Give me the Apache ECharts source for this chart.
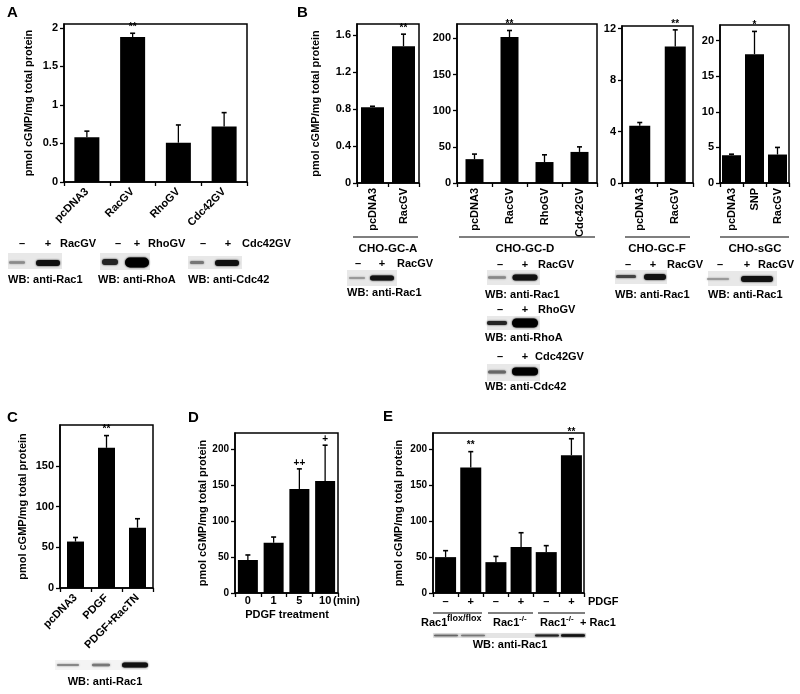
<!DOCTYPE html>
<html><head><meta charset="utf-8">
<script src="https://cdn.jsdelivr.net/npm/echarts@6/dist/echarts.min.js"></script>
<style>html,body{margin:0;padding:0;background:#fff}#c{width:800px;height:694px}</style>
</head><body><div id="c"></div>
<script>
// ---------- DATA ----------
const catsA = ['pcDNA3', 'RacGV', 'RhoGV', 'Cdc42GV'];
const valsA = [0.58, 1.88, 0.51, 0.72];
const errA  = [0.08, 0.05, 0.23, 0.18];
const sigA  = ['', '**', '', ''];

const catsGCA = ['pcDNA3', 'RacGV'];
const valsGCA = [0.82, 1.48];
const errGCA  = [0.01, 0.13];
const sigGCA  = ['', '**'];

const catsGCD = ['pcDNA3', 'RacGV', 'RhoGV', 'Cdc42GV'];
const valsGCD = [33, 202, 29, 43];
const errGCD  = [7, 9, 10, 7];
const sigGCD  = ['', '**', '', ''];

const catsGCF = ['pcDNA3', 'RacGV'];
const valsGCF = [4.45, 10.6];
const errGCF  = [0.25, 1.3];
const sigGCF  = ['', '**'];

const catsSGC = ['pcDNA3', 'SNP', 'RacGV'];
const valsSGC = [3.9, 18.1, 4.0];
const errSGC  = [0.15, 3.2, 1.0];
const sigSGC  = ['', '*', ''];

const catsC = ['pcDNA3', 'PDGF', 'PDGF+RacTN'];
const valsC = [57, 172, 74];
const errC  = [5, 15, 11];
const sigC  = ['', '**', ''];

const catsD = ['0', '1', '5', '10'];
const valsD = [46, 70, 145, 156];
const errD  = [7, 8, 28, 50];
const sigD  = ['', '', '++', '+'];

const catsE = ['–', '+', '–', '+', '–', '+'];
const valsE = [50, 175, 43, 64, 57, 192];
const errE  = [9, 22, 8, 20, 9, 23];
const sigE  = ['', '**', '', '', '', '**'];

const yTitle = 'pmol cGMP/mg total protein';

// ---------- LAYOUT ----------
const FONT = '"Liberation Sans", Arial, Helvetica, sans-serif';
const panels = [
  {cats: catsA, vals: valsA, errs: errA, sig: sigA, g: [64, 24, 183, 158], max: 2.05, iv: 0.5, bw: 25, rot: 45, lm: 8, fs: 11, yfs: 11, title: true, gap: 30},
  {cats: catsGCA, vals: valsGCA, errs: errGCA, sig: sigGCA, g: [357, 24, 62, 159], max: 1.72, iv: 0.4, bw: 23, rot: 90, lm: 5, fs: 11, yfs: 11, title: true, gap: 36},
  {cats: catsGCD, vals: valsGCD, errs: errGCD, sig: sigGCD, g: [457, 24, 140, 159], max: 220, iv: 50, bw: 18, rot: 90, lm: 5, fs: 11, yfs: 11},
  {cats: catsGCF, vals: valsGCF, errs: errGCF, sig: sigGCF, g: [622, 26, 71, 157], max: 12.2, iv: 4, bw: 21, rot: 90, lm: 5, fs: 11, yfs: 11},
  {cats: catsSGC, vals: valsSGC, errs: errSGC, sig: sigSGC, g: [720, 25, 69, 158], max: 22.2, iv: 5, bw: 19, rot: 90, lm: 5, fs: 11, yfs: 11},
  {cats: catsC, vals: valsC, errs: errC, sig: sigC, g: [60, 425, 93, 163], max: 200, iv: 50, bw: 17, rot: 45, lm: 8, fs: 11, yfs: 11, title: true, gap: 32},
  {cats: catsD, vals: valsD, errs: errD, sig: sigD, g: [235, 433, 103, 160], max: 223, iv: 50, bw: 20, rot: 0, lm: 2, fs: 11, yfs: 10, title: true, gap: 27},
  {cats: catsE, vals: valsE, errs: errE, sig: sigE, g: [433, 433, 151, 160], max: 223, iv: 50, bw: 21, rot: 0, lm: 3, fs: 11, yfs: 10, title: true, gap: 29}
];

const grids = [], xAxes = [], yAxes = [], series = [];
const lab = (fs) => ({color: '#000', fontWeight: 'bold', fontSize: fs, fontFamily: FONT});
panels.forEach((p, gi) => {
  grids.push({left: p.g[0], top: p.g[1], width: p.g[2], height: p.g[3], show: true,
    borderColor: '#000', borderWidth: 1.5, backgroundColor: 'transparent'});
  xAxes.push({gridIndex: gi, type: 'category', data: p.cats,
    axisLine: {lineStyle: {color: '#000', width: 1.5}},
    axisTick: {show: true, length: 4, lineStyle: {color: '#000', width: 1.3}},
    axisLabel: Object.assign({interval: 0, rotate: p.rot, margin: p.lm}, lab(p.fs))});
  yAxes.push({gridIndex: gi, type: 'value', min: 0, max: p.max, interval: p.iv,
    splitLine: {show: false},
    axisLine: {show: true, lineStyle: {color: '#000', width: 1.5}},
    axisTick: {show: true, length: 4, lineStyle: {color: '#000', width: 1.3}},
    axisLabel: Object.assign({margin: 6, showMaxLabel: false}, lab(p.yfs)),
    name: p.title ? yTitle : '', nameLocation: 'middle', nameGap: p.gap || 30, nameRotate: 90,
    nameTextStyle: lab(11)});
  series.push({type: 'bar', xAxisIndex: gi, yAxisIndex: gi, data: p.vals, barWidth: p.bw,
    itemStyle: {color: '#000'}, silent: true, animation: false});
  series.push({type: 'custom', xAxisIndex: gi, yAxisIndex: gi, silent: true, animation: false, z: 5,
    data: p.vals.map((v, i) => [i, v, v + p.errs[i]]),
    encode: {x: 0, y: [1, 2]},
    renderItem: (params, api) => {
      const i = api.value(0);
      const b = api.coord([i, api.value(1)]);
      const t = api.coord([i, api.value(2)]);
      const ch = [
        {type: 'line', shape: {x1: b[0], y1: b[1], x2: t[0], y2: t[1]}, style: {stroke: '#000', lineWidth: 1.3}},
        {type: 'line', shape: {x1: t[0] - 2.5, y1: t[1], x2: t[0] + 2.5, y2: t[1]}, style: {stroke: '#000', lineWidth: 1.6}}
      ];
      const s = p.sig[params.dataIndex];
      if (s) ch.push({type: 'text', x: t[0], y: t[1] - 1,
        style: {text: s, fontFamily: FONT, fontWeight: 'bold', fontSize: 10, fill: '#000', align: 'center', verticalAlign: 'bottom'}});
      return {type: 'group', children: ch};
    }});
});

// ---------- DECORATIONS (labels, brackets, blots) ----------
const G = [];
function txt(x, y, s, size, align, extra) {
  G.push({type: 'text', x: x, y: y, silent: true, z: 10,
    style: Object.assign({text: s, fontFamily: FONT, fontWeight: 'bold', fontSize: size, fill: '#000',
      align: align || 'left', verticalAlign: 'middle'}, extra || {})});
}
function hline(x1, x2, y) {
  G.push({type: 'line', silent: true, shape: {x1: x1, y1: y, x2: x2, y2: y}, style: {stroke: '#000', lineWidth: 1.2}});
}
function blot(x, y, w, h, bg, bands) {
  if (bg) G.push({type: 'rect', silent: true, shape: {x: x, y: y, width: w, height: h}, style: {fill: bg}});
  bands.forEach(b => G.push({type: 'rect', silent: true,
    shape: {x: b[0] - b[2] / 2, y: b[1] - b[3] / 2, width: b[2], height: b[3], r: b[3] / 2},
    style: {fill: b[4], shadowBlur: 2, shadowColor: b[4]}}));
}
function pm(xm, xp, xl, y, label) { txt(xm, y, '–', 11, 'center'); txt(xp, y, '+', 11, 'center'); txt(xl, y, label, 11, 'left'); }

// panel letters
txt(7, 13, 'A', 15); txt(297, 13, 'B', 15); txt(7, 418, 'C', 15); txt(188, 418, 'D', 15); txt(383, 417, 'E', 15);

// A blots
pm(22, 48, 60, 244, 'RacGV'); pm(118, 137, 148, 244, 'RhoGV'); pm(203, 228, 242, 244, 'Cdc42GV');
blot(8, 253, 54, 16, '#e8e8e8', [[17, 262.5, 16, 2.5, '#8a8a8a'], [48, 263, 24, 6, '#111']]);
blot(100, 253, 50, 17, '#e8e8e8', [[110, 262, 16, 6, '#222'], [137, 262.5, 24, 10, '#000']]);
blot(188, 256, 54, 13, '#e8e8e8', [[197, 262.5, 14, 3, '#777'], [227, 263, 24, 6, '#111']]);
txt(8, 280, 'WB: anti-Rac1', 11); txt(98, 280, 'WB: anti-RhoA', 11); txt(188, 280, 'WB: anti-Cdc42', 11);

// B brackets and group labels
hline(353, 418, 237); txt(388, 249, 'CHO-GC-A', 11.5, 'center');
hline(459, 595, 237); txt(525, 249, 'CHO-GC-D', 11.5, 'center');
hline(625, 690, 237); txt(657, 249, 'CHO-GC-F', 11.5, 'center');
hline(720, 789, 237); txt(755, 249, 'CHO-sGC', 11.5, 'center');

// B blots
pm(358, 382, 397, 264, 'RacGV');
blot(347, 270, 50, 16, '#e8e8e8', [[357, 278, 16, 2, '#999'], [382, 278, 24, 5, '#111']]);
txt(347, 293, 'WB: anti-Rac1', 11);

pm(500, 525, 538, 265, 'RacGV');
blot(487, 270, 53, 15, '#e8e8e8', [[497, 277.5, 18, 2.5, '#888'], [525, 277.5, 25, 6, '#111']]);
txt(485, 295, 'WB: anti-Rac1', 11);
pm(500, 525, 538, 310, 'RhoGV');
blot(487, 316, 53, 14, '#e8e8e8', [[497, 323, 20, 4, '#222'], [525, 323, 26, 9, '#000']]);
txt(485, 338, 'WB: anti-RhoA', 11);
pm(500, 525, 535, 357, 'Cdc42GV');
blot(487, 364, 53, 17, '#e8e8e8', [[497, 372, 18, 3, '#666'], [525, 371.5, 26, 8, '#000']]);
txt(485, 387, 'WB: anti-Cdc42', 11);

pm(628, 653, 667, 265, 'RacGV');
blot(615, 270, 52, 14, '#e8e8e8', [[626, 276.5, 20, 3, '#444'], [655, 277, 22, 6, '#111']]);
txt(615, 295, 'WB: anti-Rac1', 11);

pm(720, 747, 758, 265, 'RacGV');
blot(708, 271, 69, 15, '#e8e8e8', [[718, 279, 22, 2, '#9a9a9a'], [757, 279, 32, 6, '#111']]);
txt(708, 295, 'WB: anti-Rac1', 11);

// C blot
blot(55, 660, 93, 10, '#f4f4f4', [[68, 665, 22, 2, '#888'], [101, 665, 18, 2.5, '#777'], [135, 665, 26, 5, '#111']]);
txt(105, 682, 'WB: anti-Rac1', 11, 'center');

// D extras
txt(333, 601, '(min)', 11); txt(287, 615, 'PDGF treatment', 11, 'center');

// E extras
txt(588, 602, 'PDGF', 11);
hline(433, 482, 613); hline(488, 533, 613); hline(538, 585, 613);
txt(421, 623, 'Rac1', 11); txt(447, 619, 'flox/flox', 9);
txt(493, 623, 'Rac1', 11); txt(519, 619, '-/-', 8);
txt(540, 623, 'Rac1', 11); txt(566, 619, '-/-', 8); txt(580, 623, '+ Rac1', 11);
blot(433, 633, 153, 5, '#e4e4e4', [[446, 635.5, 24, 1.6, '#666'], [473, 635.5, 24, 1.6, '#777'],
  [547, 635.5, 24, 2.2, '#222'], [573, 635.5, 24, 2.4, '#111']]);
txt(510, 645, 'WB: anti-Rac1', 11, 'center');

const chart = echarts.init(document.getElementById('c'), null, {renderer: 'canvas'});
chart.setOption({animation: false, backgroundColor: '#fff', grid: grids, xAxis: xAxes, yAxis: yAxes, series: series, graphic: G});
</script></body></html>
